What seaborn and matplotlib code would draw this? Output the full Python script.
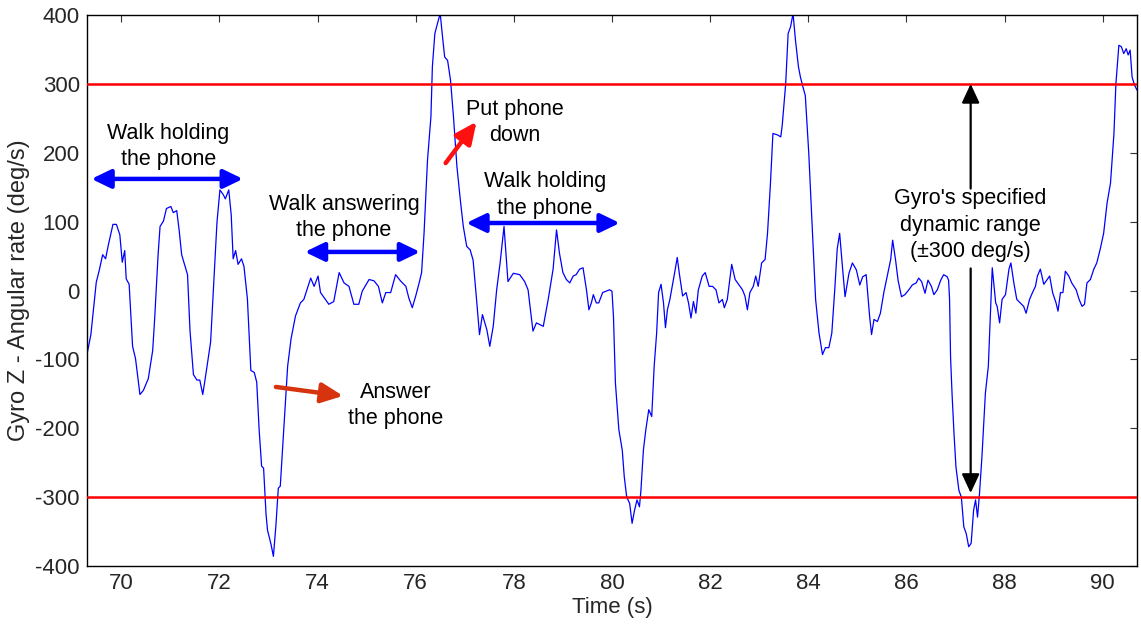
import matplotlib
matplotlib.use("Agg")
import matplotlib.pyplot as plt
import seaborn as sns
import pandas as pd

# Gyro Z trace: time (s) and angular rate (deg/s)
time_s = [
    69.30, 69.38, 69.49, 69.55, 69.62, 69.68, 69.73, 69.83, 69.90, 69.97,
    70.02, 70.07, 70.10, 70.16, 70.23, 70.29, 70.38, 70.45, 70.55, 70.64,
    70.68, 70.75, 70.79, 70.86, 70.92, 71.01, 71.06, 71.13, 71.18, 71.23,
    71.30, 71.35, 71.40, 71.47, 71.54, 71.60, 71.66, 71.71, 71.82, 71.88,
    71.95, 72.01, 72.08, 72.12, 72.19, 72.24, 72.28, 72.33, 72.38, 72.45,
    72.50, 72.57, 72.64, 72.71, 72.76, 72.81, 72.86, 72.90, 72.95, 72.98,
    73.05, 73.10, 73.15, 73.20, 73.24, 73.32, 73.39, 73.46, 73.55, 73.65,
    73.72, 73.86, 73.93, 74.01, 74.06, 74.16, 74.23, 74.33, 74.44, 74.54,
    74.64, 74.74, 74.84, 74.91, 75.05, 75.15, 75.24, 75.32, 75.39, 75.49,
    75.59, 75.69, 75.80, 75.86, 75.93, 76.00, 76.07, 76.12, 76.17, 76.24,
    76.31, 76.34, 76.39, 76.46, 76.50, 76.54, 76.59, 76.65, 76.71, 76.77,
    76.84, 76.91, 76.97, 77.04, 77.11, 77.17, 77.24, 77.30, 77.36, 77.45,
    77.51, 77.58, 77.65, 77.72, 77.80, 77.88, 77.99, 78.12, 78.22, 78.29,
    78.39, 78.46, 78.60, 78.70, 78.80, 78.87, 78.93, 79.00, 79.07, 79.14,
    79.21, 79.27, 79.34, 79.41, 79.48, 79.53, 79.58, 79.62, 79.68, 79.73,
    79.81, 79.88, 79.95, 80.00, 80.03, 80.07, 80.14, 80.21, 80.25, 80.30,
    80.36, 80.41, 80.46, 80.51, 80.56, 80.59, 80.64, 80.69, 80.75, 80.81,
    80.86, 80.91, 80.95, 81.00, 81.05, 81.09, 81.13, 81.18, 81.24, 81.29,
    81.33, 81.37, 81.44, 81.51, 81.56, 81.61, 81.66, 81.71, 81.76, 81.84,
    81.90, 81.98, 82.05, 82.12, 82.18, 82.25, 82.29, 82.35, 82.44, 82.51,
    82.58, 82.66, 82.71, 82.76, 82.81, 82.88, 82.93, 82.98, 83.05, 83.12,
    83.17, 83.23, 83.28, 83.37, 83.44, 83.47, 83.54, 83.59, 83.64, 83.69,
    83.74, 83.80, 83.84, 83.89, 83.94, 84.01, 84.08, 84.15, 84.22, 84.29,
    84.35, 84.42, 84.48, 84.54, 84.59, 84.64, 84.69, 84.75, 84.83, 84.90,
    84.98, 85.05, 85.11, 85.18, 85.25, 85.29, 85.34, 85.41, 85.47, 85.54,
    85.61, 85.68, 85.72, 85.78, 85.83, 85.90, 85.97, 86.05, 86.12, 86.20,
    86.25, 86.31, 86.38, 86.44, 86.51, 86.56, 86.63, 86.70, 86.76, 86.83,
    86.86, 86.88, 86.90, 86.93, 86.97, 87.01, 87.07, 87.12, 87.17, 87.22,
    87.27, 87.32, 87.37, 87.41, 87.45, 87.49, 87.54, 87.61, 87.67, 87.71,
    87.75, 87.82, 87.85, 87.90, 87.95, 88.02, 88.09, 88.13, 88.19, 88.25,
    88.32, 88.39, 88.44, 88.51, 88.57, 88.63, 88.67, 88.73, 88.80, 88.87,
    88.92, 88.98, 89.05, 89.09, 89.14, 89.19, 89.24, 89.31, 89.37, 89.46,
    89.52, 89.58, 89.63, 89.68, 89.75, 89.82, 89.88, 89.95, 90.02, 90.09,
    90.16, 90.23, 90.27, 90.33, 90.38, 90.43, 90.48, 90.52, 90.56, 90.60,
    90.65, 90.70,
]
rate_dps = [
    -93, -64, 12, 29, 52, 46, 64, 96, 96, 81,
    41, 58, 17, 9, -81, -99, -151, -145, -128, -87,
    -41, 52, 93, 101, 119, 122, 113, 116, 87, 52,
    35, 23, -58, -122, -130, -130, -151, -128, -75, 6,
    99, 146, 139, 133, 146, 110, 46, 58, 38, 46,
    35, -12, -116, -119, -133, -203, -255, -258, -325, -348,
    -368, -386, -342, -287, -284, -191, -110, -70, -37, -18,
    -13, 18, 6, 21, -3, -13, -20, -16, 26, 11,
    6, -20, -20, -1, 16, 14, 6, -18, -3, -3,
    23, 14, 6, -11, -25, -8, 11, 26, 83, 189,
    252, 325, 373, 392, 402, 373, 339, 334, 305, 252,
    180, 131, 93, 64, 59, 44, -13, -64, -35, -57,
    -81, -52, 1, 40, 93, 13, 25, 23, 13, 1,
    -59, -47, -52, -13, 31, 88, 54, 26, 16, 11,
    21, 23, 31, 33, 1, -28, -18, -6, -18, -18,
    -3, -1, 1, -1, -37, -134, -202, -232, -270, -300,
    -309, -338, -319, -304, -314, -290, -232, -202, -173, -183,
    -110, -62, -3, 9, -18, -54, -28, -13, 11, 31,
    48, 26, -8, -3, -18, -40, -16, -33, 1, 21,
    26, 6, 6, 1, -18, -13, -25, -13, 38, 16,
    9, 1, -8, -28, -3, 6, 21, 6, 40, 45,
    83, 156, 228, 226, 223, 240, 300, 373, 383, 402,
    363, 325, 310, 296, 283, 200, 95, -13, -62, -93,
    -83, -83, -62, 1, 60, 83, 40, -9, 25, 40,
    30, 8, 20, 23, -37, -64, -42, -45, -33, -3,
    21, 45, 73, 44, 15, -9, -6, 1, 8, 11,
    18, 13, -4, 15, 6, -6, 1, 15, 23, 20,
    15, -13, -96, -149, -207, -256, -290, -300, -343, -353,
    -372, -367, -319, -304, -329, -295, -241, -149, -110, -37,
    33, -18, -23, -47, -13, -6, 31, 40, 11, -13,
    -18, -23, -33, -13, -3, 6, 21, 31, 9, 16,
    21, -3, -18, -30, -3, -3, 28, 21, 11, 1,
    -13, -23, -20, 11, 16, 31, 40, 60, 83, 127,
    156, 228, 300, 356, 354, 344, 351, 342, 349, 310,
    298, 291,
]

# Specified dynamic range of the gyro (deg/s)
range_limits = [300, -300]

x_ticks = [70, 72, 74, 76, 78, 80, 82, 84, 86, 88, 90]
y_ticks = [-400, -300, -200, -100, 0, 100, 200, 300, 400]

sns.set_style("white")
plt.rcParams["font.family"] = ["Liberation Sans", "DejaVu Sans"]
plt.rcParams["axes.unicode_minus"] = False

fig = plt.figure(figsize=(11.41, 6.24), dpi=100)
ax = fig.add_axes([0.0762, 0.0929, 0.9203, 0.8831])

df = pd.DataFrame({"Time (s)": time_s, "rate": rate_dps})
sns.lineplot(data=df, x="Time (s)", y="rate", ax=ax, color="#0000ff",
             linewidth=0.9, sort=True, estimator=None)

for lim in range_limits:
    ax.axhline(lim, color="#ff0000", linewidth=1.8, zorder=3)

ax.set_xlim(69.3, 90.7)
ax.set_ylim(-400, 400)
ax.set_xticks(x_ticks)
ax.set_yticks(y_ticks)
ax.set_xticklabels([str(v) for v in x_ticks])
ax.set_yticklabels([str(v) for v in y_ticks])
ax.tick_params(direction="in", top=True, right=True, length=5, width=0.8,
               color="#333333", labelsize=16, pad=5)
for sp in ax.spines.values():
    sp.set_color("black")
    sp.set_linewidth(1.0)

ax.set_xlabel("Time (s)", fontsize=16, labelpad=2)
ax.set_ylabel("Gyro Z - Angular rate (deg/s)", fontsize=17, labelpad=4)

txt_kw = dict(ha="center", va="center", fontsize=15.5, color="black",
              linespacing=1.35, zorder=5)

# Activity labels with double-headed blue arrows
blue_style = "<|-|>,head_length=0.58,head_width=0.28"
blue_kw = dict(arrowstyle=blue_style, color="#0000ff", lw=3.2,
               mutation_scale=20, shrinkA=0, shrinkB=0)

ax.text(70.96, 209, "Walk holding\nthe phone", **txt_kw)
ax.annotate("", xy=(72.48, 162), xytext=(69.39, 162), arrowprops=blue_kw)

ax.text(74.54, 106, "Walk answering\nthe phone", **txt_kw)
ax.annotate("", xy=(76.09, 56), xytext=(73.74, 56), arrowprops=blue_kw)

ax.text(78.63, 139, "Walk holding\nthe phone", **txt_kw)
ax.annotate("", xy=(80.16, 98), xytext=(77.03, 98), arrowprops=blue_kw)

# Event labels with red arrows
red_style = "-|>,head_length=0.65,head_width=0.3"
ax.text(78.02, 244, "Put phone\ndown", **txt_kw)
ax.annotate("", xy=(77.24, 245), xytext=(76.61, 185),
            arrowprops=dict(arrowstyle=red_style, color="#ff1010", lw=3.2,
                            mutation_scale=20, shrinkA=0, shrinkB=0))

ax.text(75.60, -167, "Answer\nthe phone", **txt_kw)
ax.annotate("", xy=(74.52, -153), xytext=(73.15, -140),
            arrowprops=dict(arrowstyle=red_style, color="#d8330f", lw=3.2,
                            mutation_scale=20, shrinkA=0, shrinkB=0))

# Dynamic range callout with black arrows to the limit lines
black_kw = dict(arrowstyle="-|>,head_length=0.58,head_width=0.27",
                color="black", lw=1.6, mutation_scale=20, shrinkA=0, shrinkB=0)
ax.text(87.31, 95, "Gyro's specified\ndynamic range\n(\u00b1300 deg/s)", **txt_kw)
ax.annotate("", xy=(87.31, range_limits[0]), xytext=(87.31, 148),
            arrowprops=black_kw)
ax.annotate("", xy=(87.31, range_limits[1] + 6), xytext=(87.31, 32),
            arrowprops=black_kw)

fig.savefig("out.png", dpi=100, facecolor="white")
